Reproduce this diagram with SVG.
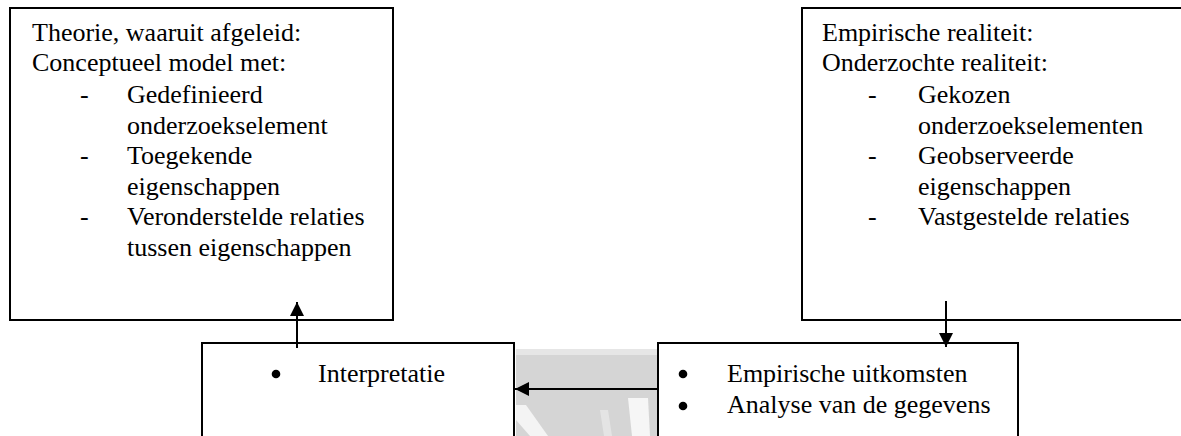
<svg xmlns="http://www.w3.org/2000/svg" width="1181" height="436" viewBox="0 0 1181 436">
<style>
.box{fill:#fff;stroke:#000;stroke-width:2}
.t{font-family:"Liberation Serif","Times New Roman",serif;font-size:26px;fill:#000}
.ln{stroke:#000;stroke-width:2;fill:none}
</style>
<defs>
<marker id="ah" viewBox="0 0 14 14" refX="14" refY="7" markerWidth="14" markerHeight="14" markerUnits="userSpaceOnUse" orient="auto">
<path d="M0,0 L14,7 L0,14 Z" fill="#000"/>
</marker>
</defs>
<rect width="1181" height="436" fill="#fff"/>
<g id="watermark">
<rect x="516" y="349" width="141" height="87" fill="#d5d5d5"/>
<rect x="516" y="349" width="141" height="6" fill="#e6e6e6"/>
<polygon points="516,405 526,405 548,436 530,436 516,420" fill="#f4f4f4"/>
<polygon points="628,398 648,398 650,436 632,436" fill="#f6f6f6"/>
<polygon points="600,410 608,410 612,436 604,436" fill="#e4e4e4"/>
</g>
<g id="theorie">
<rect class="box" x="10" y="8" width="383" height="312"/>
<text class="t" x="32" y="41">Theorie, waaruit afgeleid:</text>
<text class="t" x="32" y="71">Conceptueel model met:</text>
<text class="t" x="80" y="103">-</text>
<text class="t" x="127" y="103">Gedefinieerd</text>
<text class="t" x="127" y="134">onderzoekselement</text>
<text class="t" x="80" y="164">-</text>
<text class="t" x="127" y="164">Toegekende</text>
<text class="t" x="127" y="195">eigenschappen</text>
<text class="t" x="80" y="225">-</text>
<text class="t" x="127" y="225">Veronderstelde relaties</text>
<text class="t" x="127" y="256">tussen eigenschappen</text>
</g>
<g id="empirie">
<rect class="box" x="802" y="8" width="385" height="312"/>
<text class="t" x="822" y="41">Empirische realiteit:</text>
<text class="t" x="822" y="71">Onderzochte realiteit:</text>
<text class="t" x="868" y="103">-</text>
<text class="t" x="918" y="103">Gekozen</text>
<text class="t" x="918" y="134">onderzoekselementen</text>
<text class="t" x="868" y="164">-</text>
<text class="t" x="918" y="164">Geobserveerde</text>
<text class="t" x="918" y="195">eigenschappen</text>
<text class="t" x="868" y="225">-</text>
<text class="t" x="918" y="225">Vastgestelde relaties</text>
</g>
<g id="interpretatie">
<rect class="box" x="202" y="343" width="312" height="100"/>
<circle cx="276" cy="374" r="4.3"/>
<text class="t" x="318" y="382">Interpretatie</text>
</g>
<g id="uitkomsten">
<rect class="box" x="658" y="343" width="360" height="100"/>
<circle cx="683" cy="374" r="4.3"/>
<text class="t" x="727" y="382">Empirische uitkomsten</text>
<circle cx="683" cy="406" r="4.3"/>
<text class="t" x="727" y="413">Analyse van de gegevens</text>
</g>
<g id="connectors">
<line class="ln" x1="297" y1="348" x2="297" y2="302" marker-end="url(#ah)"/>
<line class="ln" x1="946" y1="301" x2="946" y2="347" marker-end="url(#ah)"/>
<line class="ln" x1="658" y1="389" x2="515" y2="389" marker-end="url(#ah)"/>
</g>
</svg>
